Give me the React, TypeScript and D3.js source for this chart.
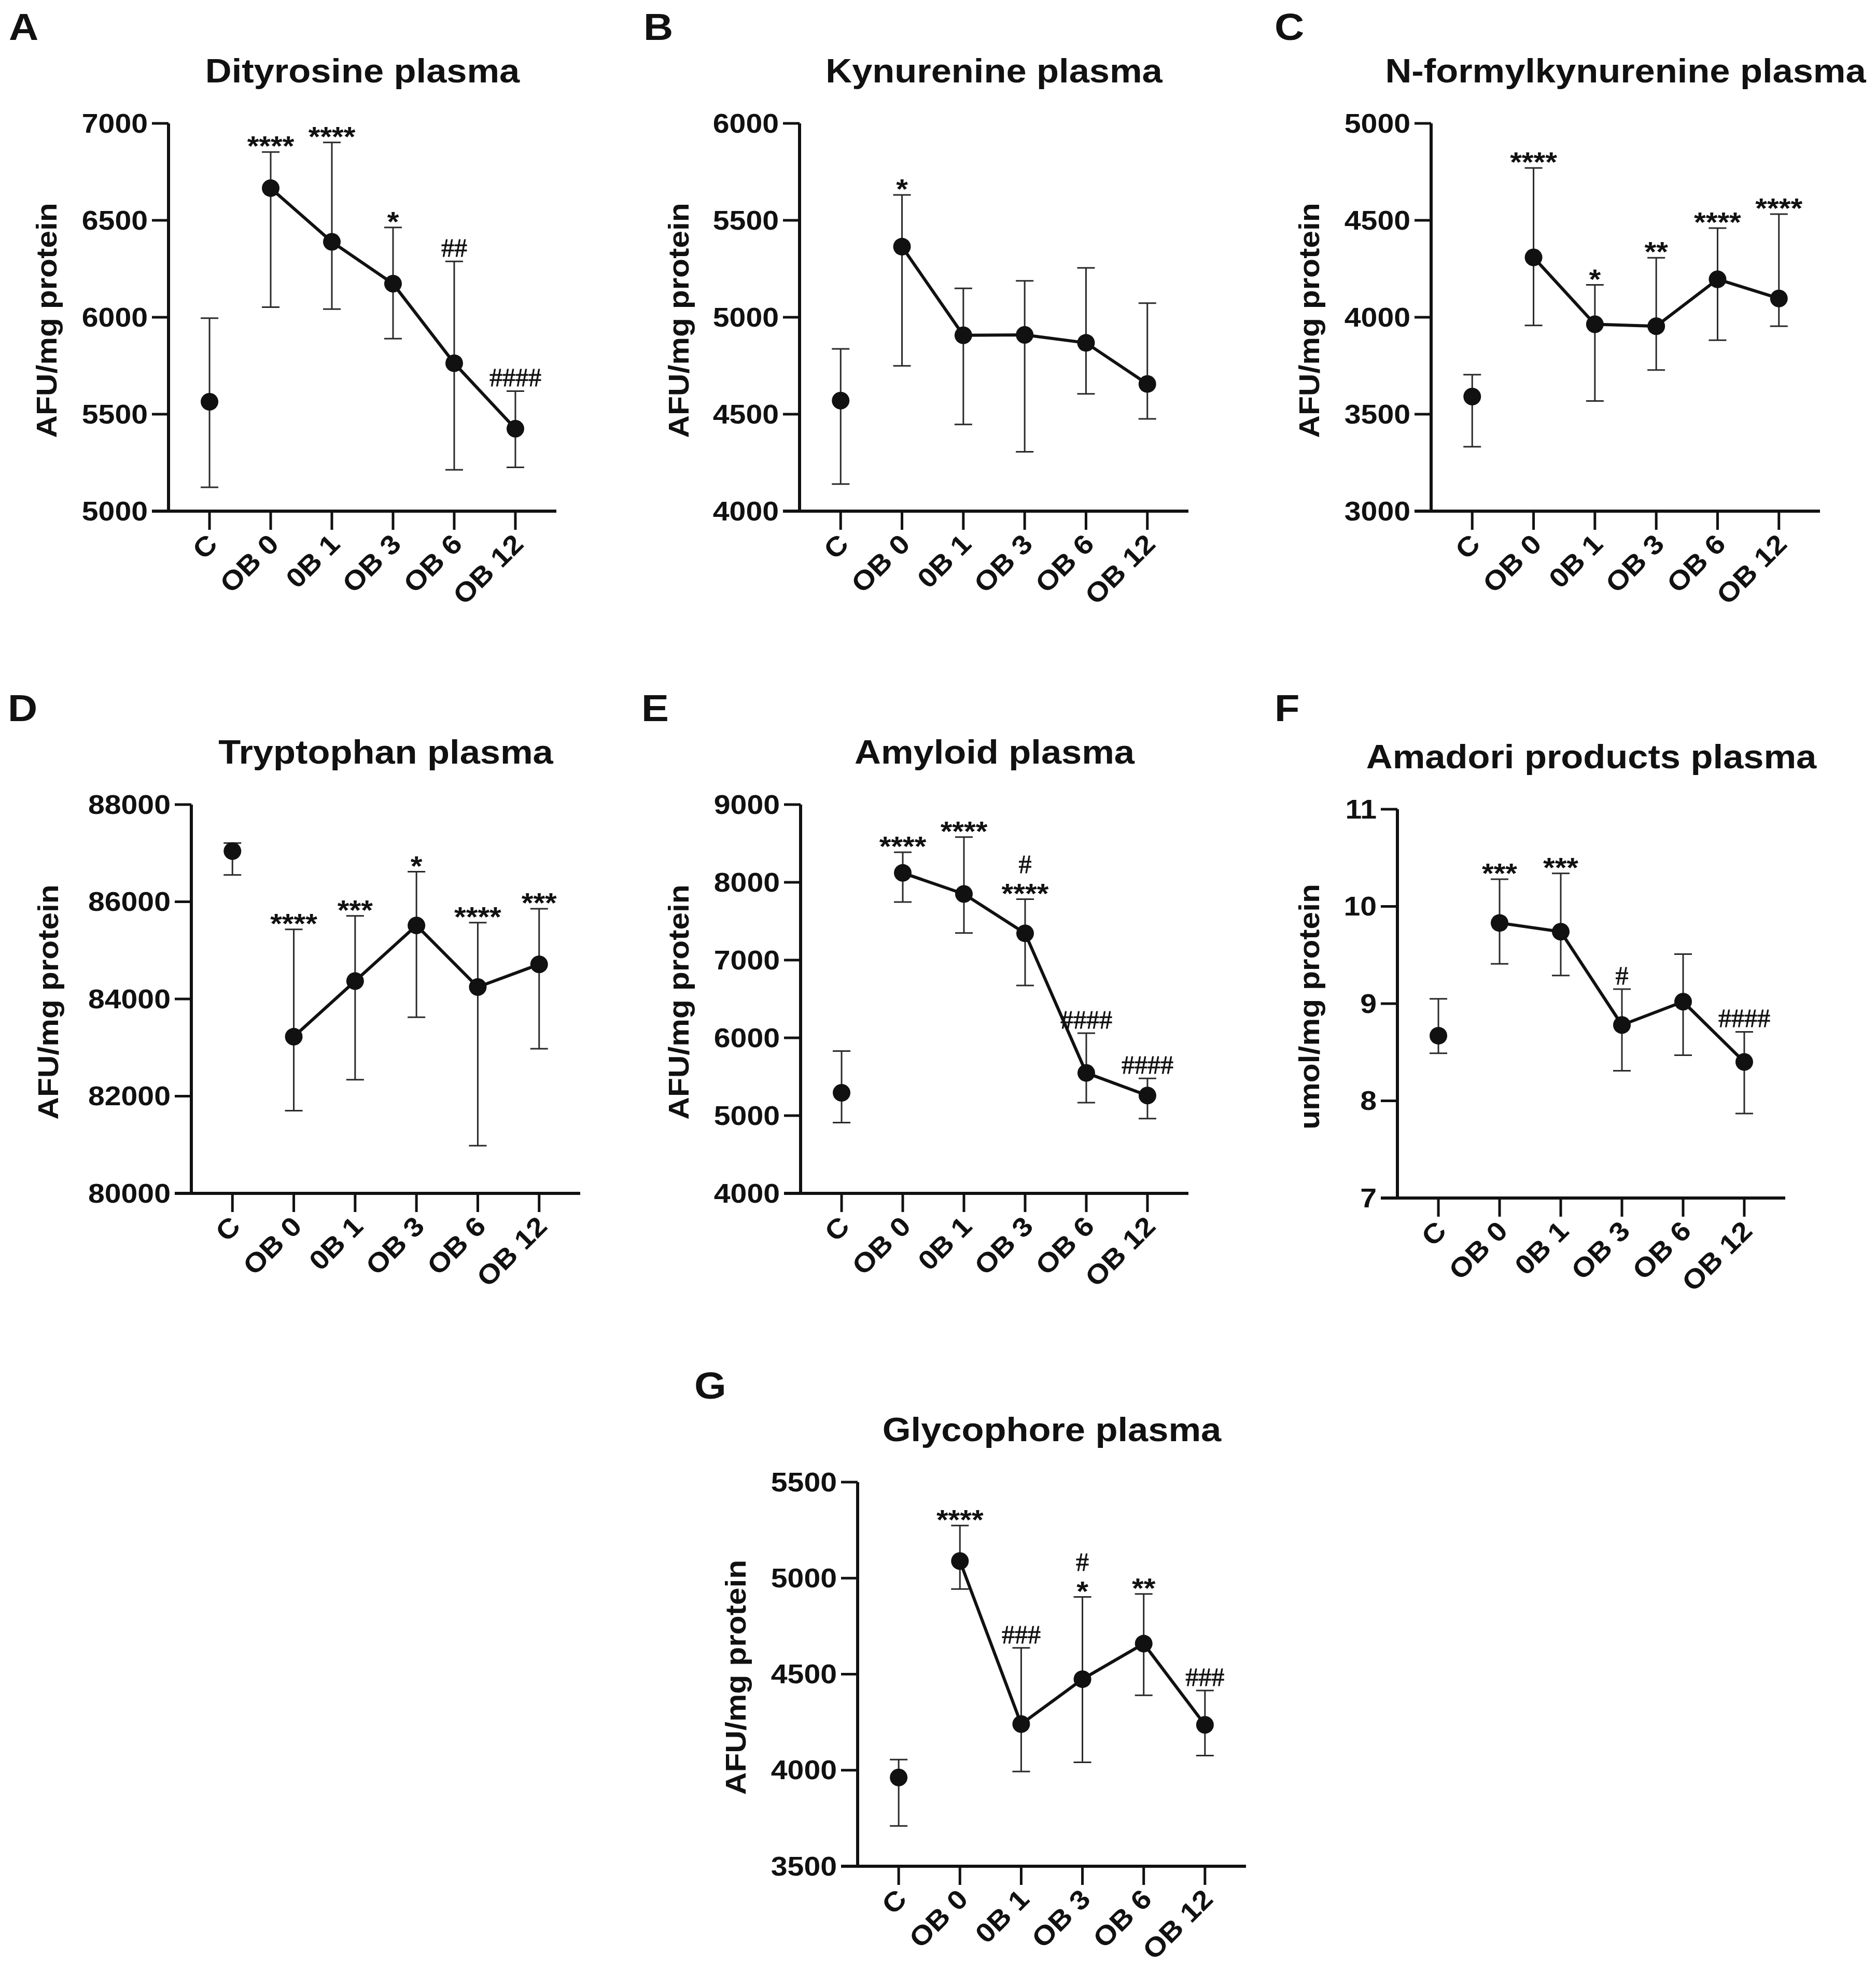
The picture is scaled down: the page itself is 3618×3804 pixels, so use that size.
import React from 'react'
import * as d3 from 'd3'

// group labels, shared by all panels
const categories = ['C', 'OB 0', '0B 1', 'OB 3', 'OB 6', 'OB 12']

// A - Dityrosine
const dityrosineMean = [5564, 6666, 6389, 6173, 5763, 5425]
const dityrosineLow = [5123, 6052, 6042, 5890, 5213, 5226]
const dityrosineHigh = [5995, 6852, 6902, 6463, 6288, 5619]
const dityrosineMarks = ['', '****', '****', '*', '##', '####']
const dityrosineTicks = [5000, 5500, 6000, 6500, 7000]

// B - Kynurenine
const kynurenineMean = [4570, 5364, 4907, 4909, 4868, 4656]
const kynurenineLow = [4140, 4749, 4447, 4306, 4605, 4476]
const kynurenineHigh = [4837, 5631, 5149, 5188, 5255, 5073]
const kynurenineMarks = ['', '*', '', '', '', '']
const kynurenineTicks = [4000, 4500, 5000, 5500, 6000]

// C - N-formylkynurenine
const nfkMean = [3591, 4309, 3964, 3954, 4196, 4097]
const nfkLow = [3332, 3958, 3568, 3728, 3882, 3954]
const nfkHigh = [3704, 4770, 4167, 4307, 4460, 4532]
const nfkMarks = ['', '****', '*', '**', '****', '****']
const nfkTicks = [3000, 3500, 4000, 4500, 5000]

// D - Tryptophan
const tryptophanMean = [87043, 83223, 84368, 85513, 84245, 84712]
const tryptophanLow = [86552, 81701, 82340, 83624, 80982, 82977]
const tryptophanHigh = [87207, 85431, 85710, 86618, 85571, 85857]
const tryptophanMarks = ['', '****', '***', '*', '****', '***']
const tryptophanTicks = [80000, 82000, 84000, 86000, 88000]

// E - Amyloid
const amyloidMean = [5293, 8121, 7850, 7344, 5549, 5258]
const amyloidLow = [4910, 7747, 7349, 6674, 5166, 4961]
const amyloidHigh = [5830, 8387, 8581, 7783, 6060, 5478]
const amyloidMarks = ['', '****', '****', '#|****', '####', '####']
const amyloidTicks = [4000, 5000, 6000, 7000, 8000, 9000]

// F - Amadori products
const amadoriMean = [8.67, 9.83, 9.74, 8.78, 9.02, 8.4]
const amadoriLow = [8.49, 9.41, 9.29, 8.31, 8.47, 7.87]
const amadoriHigh = [9.05, 10.28, 10.34, 9.15, 9.51, 8.71]
const amadoriMarks = ['', '***', '***', '#', '', '####']
const amadoriTicks = [7, 8, 9, 10, 11]

// G - Glycophore
const glycophoreMean = [3962, 5089, 4240, 4474, 4659, 4236]
const glycophoreLow = [3710, 4943, 3993, 4041, 4390, 4076]
const glycophoreHigh = [4055, 5274, 4637, 4902, 4918, 4415]
const glycophoreMarks = ['', '****', '###', '#|*', '**', '###']
const glycophoreTicks = [3500, 4000, 4500, 5000, 5500]

interface PanelSpec {
  letter: string
  title: string
  yLabel: string
  mean: number[]
  low: number[]
  high: number[]
  marks: string[]
  ticks: number[]
  // layout (pixels)
  left: number
  right: number
  top: number
  bottom: number
  letterX: number
  letterY: number
  yLabelX: number
}

const panels: PanelSpec[] = [
  { letter: 'A', title: 'Dityrosine plasma', yLabel: 'AFU/mg protein', mean: dityrosineMean, low: dityrosineLow, high: dityrosineHigh, marks: dityrosineMarks, ticks: dityrosineTicks,
    left: 325, right: 1073, top: 238, bottom: 986, letterX: 17, letterY: 77, yLabelX: 109 },
  { letter: 'B', title: 'Kynurenine plasma', yLabel: 'AFU/mg protein', mean: kynurenineMean, low: kynurenineLow, high: kynurenineHigh, marks: kynurenineMarks, ticks: kynurenineTicks,
    left: 1542, right: 2292, top: 238, bottom: 986, letterX: 1241, letterY: 77, yLabelX: 1328 },
  { letter: 'C', title: 'N-formylkynurenine plasma', yLabel: 'AFU/mg protein', mean: nfkMean, low: nfkLow, high: nfkHigh, marks: nfkMarks, ticks: nfkTicks,
    left: 2760, right: 3510, top: 238, bottom: 986, letterX: 2458, letterY: 77, yLabelX: 2544 },
  { letter: 'D', title: 'Tryptophan plasma', yLabel: 'AFU/mg protein', mean: tryptophanMean, low: tryptophanLow, high: tryptophanHigh, marks: tryptophanMarks, ticks: tryptophanTicks,
    left: 369, right: 1119, top: 1552, bottom: 2302, letterX: 15, letterY: 1391, yLabelX: 112 },
  { letter: 'E', title: 'Amyloid plasma', yLabel: 'AFU/mg protein', mean: amyloidMean, low: amyloidLow, high: amyloidHigh, marks: amyloidMarks, ticks: amyloidTicks,
    left: 1544, right: 2292, top: 1552, bottom: 2302, letterX: 1237, letterY: 1391, yLabelX: 1328 },
  { letter: 'F', title: 'Amadori products plasma', yLabel: 'umol/mg protein', mean: amadoriMean, low: amadoriLow, high: amadoriHigh, marks: amadoriMarks, ticks: amadoriTicks,
    left: 2695, right: 3443, top: 1561, bottom: 2311, letterX: 2458, letterY: 1391, yLabelX: 2544 },
  { letter: 'G', title: 'Glycophore plasma', yLabel: 'AFU/mg protein', mean: glycophoreMean, low: glycophoreLow, high: glycophoreHigh, marks: glycophoreMarks, ticks: glycophoreTicks,
    left: 1654, right: 2403, top: 2859, bottom: 3600, letterX: 1339, letterY: 2698, yLabelX: 1438 },
]

const SANS = 'Liberation Sans, Arial, Helvetica, sans-serif'
const SERIF = 'Liberation Serif, Times New Roman, serif'
const STRETCH = 1.1

const Panel: React.FC<{ p: PanelSpec }> = ({ p }) => {
  const x = d3.scalePoint<string>().domain(categories).range([p.left, p.right]).padding(0.67)
  const y = d3.scaleLinear().domain([p.ticks[0], p.ticks[p.ticks.length - 1]]).range([p.bottom, p.top])

  // C group stands alone, the OB groups are joined
  const linePts = p.mean.map((m, i) => ({ cat: categories[i], m })).slice(1)
  const line = d3.line<{ cat: string; m: number }>()
    .x(d => x(d.cat) as number)
    .y(d => y(d.m))

  const midY = (p.top + p.bottom) / 2
  const capW = 17

  return (
    <g>
      {/* panel letter */}
      <text transform={`translate(${p.letterX},${p.letterY}) scale(${STRETCH},1)`}
        fontFamily={SANS} fontWeight="bold" fontSize={72} fill="#111">{p.letter}</text>

      {/* title */}
      <text transform={`translate(${(p.left + p.right) / 2},${p.top - 79}) scale(${STRETCH},1)`}
        textAnchor="middle" fontFamily={SANS} fontWeight="bold" fontSize={64} fill="#111">{p.title}</text>

      {/* y label */}
      <text transform={`translate(${p.yLabelX},${midY + 6}) rotate(-90) scale(${STRETCH},1)`}
        textAnchor="middle" fontFamily={SANS} fontWeight="bold" fontSize={55} fill="#111">{p.yLabel}</text>

      {/* y axis */}
      <line x1={p.left} x2={p.left} y1={p.top} y2={p.bottom} stroke="#111" strokeWidth={6} />
      {p.ticks.map(t => (
        <g key={t}>
          <line x1={p.left - 32} x2={p.left} y1={y(t)} y2={y(t)} stroke="#111" strokeWidth={5} />
          <text transform={`translate(${p.left - 40},${y(t)}) scale(${STRETCH},1)`}
            textAnchor="end" dominantBaseline="central"
            fontFamily={SANS} fontWeight="bold" fontSize={52} fill="#111">{t}</text>
        </g>
      ))}

      {/* x axis */}
      <line x1={p.left - 32} x2={p.right} y1={p.bottom} y2={p.bottom} stroke="#111" strokeWidth={6} />
      {categories.map(c => {
        const cx = x(c) as number
        return (
          <g key={c}>
            <line x1={cx} x2={cx} y1={p.bottom} y2={p.bottom + 36} stroke="#111" strokeWidth={5} />
            <text transform={`translate(${cx + 6},${p.bottom + 54}) rotate(-45) scale(${STRETCH},1)`}
              textAnchor="end" dominantBaseline="central"
              fontFamily={SANS} fontWeight="bold" fontSize={52} fill="#111">{c}</text>
          </g>
        )
      })}

      {/* error bars */}
      {categories.map((c, i) => {
        const cx = x(c) as number
        return (
          <g key={'e' + c} stroke="#2a2a2a" strokeWidth={3}>
            <line x1={cx} x2={cx} y1={y(p.low[i])} y2={y(p.high[i])} />
            <line x1={cx - capW} x2={cx + capW} y1={y(p.low[i])} y2={y(p.low[i])} />
            <line x1={cx - capW} x2={cx + capW} y1={y(p.high[i])} y2={y(p.high[i])} />
          </g>
        )
      })}

      {/* mean line */}
      <path d={line(linePts) || ''} fill="none" stroke="#111" strokeWidth={6} strokeLinejoin="round" />

      {/* markers */}
      {categories.map((c, i) => (
        <circle key={'m' + c} cx={x(c) as number} cy={y(p.mean[i])} r={17} fill="#111" />
      ))}

      {/* significance marks */}
      {categories.map((c, i) => {
        if (!p.marks[i]) return null
        const cx = x(c) as number
        const topY = y(p.high[i])
        const lines = p.marks[i].split('|').reverse()
        return (
          <g key={'s' + c}>
            {lines.map((s, k) => {
              const isHash = s.includes('#')
              const base = isHash ? topY - 9 : topY + 7
              const yy = base - k * 42
              return isHash ? (
                <text key={k} x={cx} y={yy} textAnchor="middle" fontFamily={SERIF} fontSize={50}
                  fill="#111" stroke="#111" strokeWidth={0.8}>{s}</text>
              ) : (
                <text key={k} transform={`translate(${cx},${yy}) scale(${STRETCH},1)`} textAnchor="middle"
                  fontFamily={SANS} fontWeight="bold" fontSize={53} fill="#111">{s}</text>
              )
            })}
          </g>
        )
      })}
    </g>
  )
}

const App: React.FC = () => {
  return (
    <svg width={3618} height={3804} viewBox="0 0 3618 3804"
      style={{ position: 'absolute', left: 0, top: 0, background: '#fff' }}>
      <rect x={0} y={0} width={3618} height={3804} fill="#fff" />
      {panels.map(p => <Panel key={p.letter} p={p} />)}
    </svg>
  )
}

export default App
